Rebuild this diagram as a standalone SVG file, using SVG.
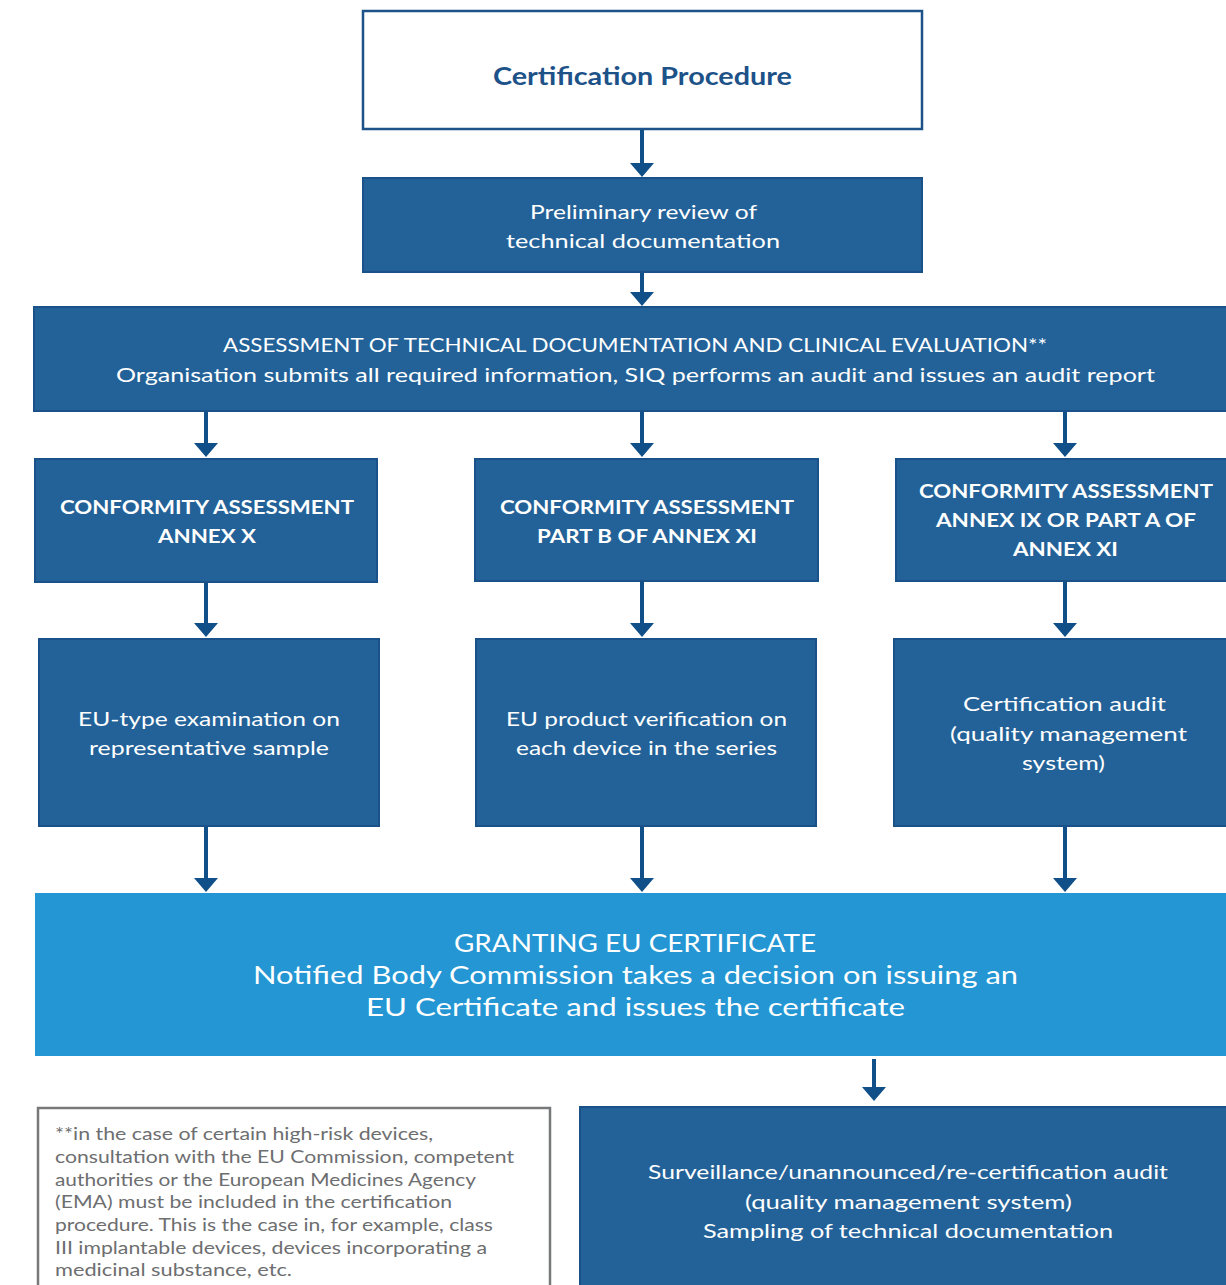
<svg xmlns="http://www.w3.org/2000/svg" width="1226" height="1285" viewBox="0 0 1226 1285">
<defs>
<marker id="ah" viewBox="0 0 14 24" markerWidth="14" markerHeight="24" refX="4" refY="12" orient="auto" markerUnits="userSpaceOnUse">
<path d="M0,0 L14,12 L0,24 Z" fill="#104f87"/>
</marker>
<style>
.dark{fill:#236298;stroke:#1a5188;stroke-width:2}
.light{fill:#2396d3}
.title{fill:#fff;stroke:#1d5289;stroke-width:2.5}
.note{fill:#fff;stroke:#77787a;stroke-width:2.5}
text{font-family:Lato,"Open Sans","Liberation Sans",sans-serif;text-anchor:middle}
.w{fill:#fff;font-size:19px}
.wb{fill:#fff;font-size:19px;font-weight:bold}
.big{fill:#fff;font-size:25px}
.tt{fill:#1d5289;font-size:25px;font-weight:bold}
.ft{fill:#6d6e70;font-size:18px;text-anchor:start}
.conn line{stroke:#104f87;stroke-width:4;marker-end:url(#ah)}
</style>
</defs>
<rect width="1226" height="1285" fill="#fff"/>
<g id="n-title">
<rect class="title" x="363" y="11" width="559" height="118"/>
<text class="tt" x="642.5" y="85" textLength="299" lengthAdjust="spacingAndGlyphs">Certification Procedure</text>
</g>
<g id="n-prelim">
<rect class="dark" x="363" y="178" width="559" height="94"/>
<text class="w" x="643.5" y="219" textLength="227" lengthAdjust="spacingAndGlyphs">Preliminary review of</text>
<text class="w" x="643" y="248" textLength="274" lengthAdjust="spacingAndGlyphs">technical documentation</text>
</g>
<g id="n-assess">
<rect class="dark" x="34" y="307" width="1200" height="104"/>
<text class="w" x="635" y="352" textLength="824" lengthAdjust="spacingAndGlyphs">ASSESSMENT OF TECHNICAL DOCUMENTATION AND CLINICAL EVALUATION**</text>
<text class="w" x="635.5" y="382" textLength="1039" lengthAdjust="spacingAndGlyphs">Organisation submits all required information, SIQ performs an audit and issues an audit report</text>
</g>
<g id="n-conf1">
<rect class="dark" x="35" y="459" width="342" height="123"/>
<text class="wb" x="207" y="514" textLength="294" lengthAdjust="spacingAndGlyphs">CONFORMITY ASSESSMENT</text>
<text class="wb" x="207" y="543" textLength="98" lengthAdjust="spacingAndGlyphs">ANNEX X</text>
</g>
<g id="n-conf2">
<rect class="dark" x="475" y="459" width="343" height="122"/>
<text class="wb" x="647" y="514" textLength="294" lengthAdjust="spacingAndGlyphs">CONFORMITY ASSESSMENT</text>
<text class="wb" x="647" y="543" textLength="220" lengthAdjust="spacingAndGlyphs">PART B OF ANNEX XI</text>
</g>
<g id="n-conf3">
<rect class="dark" x="896" y="459" width="340" height="122"/>
<text class="wb" x="1066" y="498" textLength="294" lengthAdjust="spacingAndGlyphs">CONFORMITY ASSESSMENT</text>
<text class="wb" x="1066" y="527" textLength="260" lengthAdjust="spacingAndGlyphs">ANNEX IX OR PART A OF</text>
<text class="wb" x="1065.5" y="556" textLength="105" lengthAdjust="spacingAndGlyphs">ANNEX XI</text>
</g>
<g id="n-eutype">
<rect class="dark" x="39" y="639" width="340" height="187"/>
<text class="w" x="209" y="726" textLength="262" lengthAdjust="spacingAndGlyphs">EU-type examination on</text>
<text class="w" x="209" y="755" textLength="240" lengthAdjust="spacingAndGlyphs">representative sample</text>
</g>
<g id="n-euprod">
<rect class="dark" x="476" y="639" width="340" height="187"/>
<text class="w" x="646.5" y="726" textLength="281" lengthAdjust="spacingAndGlyphs">EU product verification on</text>
<text class="w" x="646.5" y="755" textLength="261" lengthAdjust="spacingAndGlyphs">each device in the series</text>
</g>
<g id="n-certaudit">
<rect class="dark" x="894" y="639" width="340" height="187"/>
<text class="w" x="1064.5" y="711" textLength="203" lengthAdjust="spacingAndGlyphs">Certification audit</text>
<text class="w" x="1068.5" y="741" textLength="237" lengthAdjust="spacingAndGlyphs">(quality management</text>
<text class="w" x="1063.5" y="770" textLength="83" lengthAdjust="spacingAndGlyphs">system)</text>
</g>
<g id="n-granting">
<rect class="light" x="35" y="893" width="1191" height="163"/>
<text class="big" x="635" y="952" textLength="362" lengthAdjust="spacingAndGlyphs">GRANTING EU CERTIFICATE</text>
<text class="big" x="635.5" y="984" textLength="765" lengthAdjust="spacingAndGlyphs">Notified Body Commission takes a decision on issuing an</text>
<text class="big" x="635.5" y="1016" textLength="539" lengthAdjust="spacingAndGlyphs">EU Certificate and issues the certificate</text>
</g>
<g id="n-note">
<rect class="note" x="38" y="1108" width="512" height="190"/>
<text class="ft" x="55" y="1140" textLength="378" lengthAdjust="spacingAndGlyphs">**in the case of certain high-risk devices,</text>
<text class="ft" x="55" y="1163" textLength="459" lengthAdjust="spacingAndGlyphs">consultation with the EU Commission, competent</text>
<text class="ft" x="55" y="1186" textLength="421" lengthAdjust="spacingAndGlyphs">authorities or the European Medicines Agency</text>
<text class="ft" x="55" y="1208" textLength="397" lengthAdjust="spacingAndGlyphs">(EMA) must be included in the certification</text>
<text class="ft" x="55" y="1231" textLength="438" lengthAdjust="spacingAndGlyphs">procedure. This is the case in, for example, class</text>
<text class="ft" x="55" y="1254" textLength="432" lengthAdjust="spacingAndGlyphs">III implantable devices, devices incorporating a</text>
<text class="ft" x="55" y="1276" textLength="237" lengthAdjust="spacingAndGlyphs">medicinal substance, etc.</text>
</g>
<g id="n-surv">
<rect class="dark" x="580" y="1107" width="660" height="190"/>
<text class="w" x="908" y="1179" textLength="520" lengthAdjust="spacingAndGlyphs">Surveillance/unannounced/re-certification audit</text>
<text class="w" x="908.5" y="1209" textLength="327" lengthAdjust="spacingAndGlyphs">(quality management system)</text>
<text class="w" x="908" y="1238" textLength="410" lengthAdjust="spacingAndGlyphs">Sampling of technical documentation</text>
</g>
<g id="connectors" class="conn">
<line x1="642" y1="130" x2="642" y2="167"/>
<line x1="642" y1="273" x2="642" y2="296"/>
<line x1="206" y1="412" x2="206" y2="447"/>
<line x1="642" y1="412" x2="642" y2="447"/>
<line x1="1065" y1="412" x2="1065" y2="447"/>
<line x1="206" y1="583" x2="206" y2="627"/>
<line x1="642" y1="582" x2="642" y2="627"/>
<line x1="1065" y1="582" x2="1065" y2="627"/>
<line x1="206" y1="827" x2="206" y2="882"/>
<line x1="642" y1="827" x2="642" y2="882"/>
<line x1="1065" y1="827" x2="1065" y2="882"/>
<line x1="874" y1="1059" x2="874" y2="1091"/>
</g>
</svg>
